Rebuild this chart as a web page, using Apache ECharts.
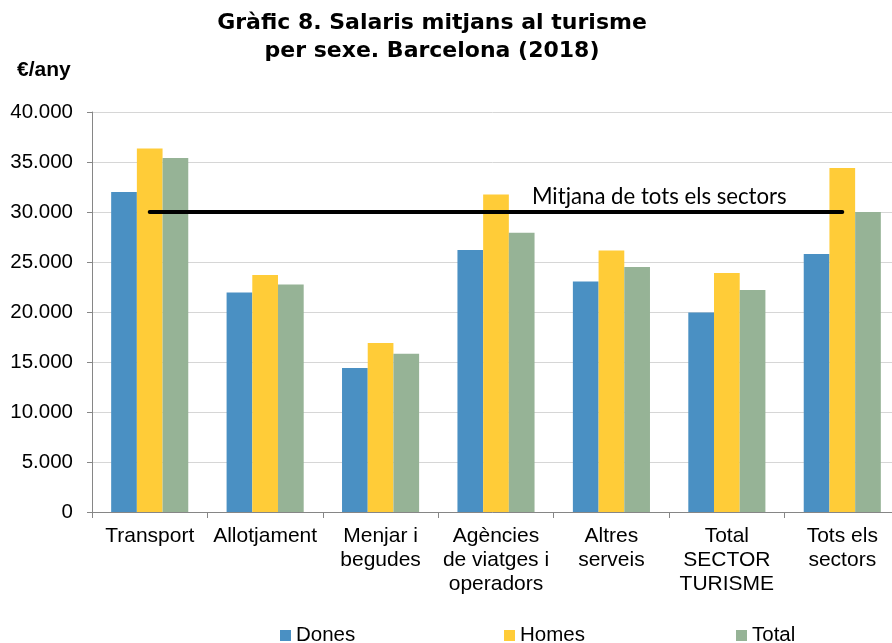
<!DOCTYPE html>
<html><head><meta charset="utf-8">
<script src="https://cdn.jsdelivr.net/npm/echarts@6/dist/echarts.min.js"></script>
<style>html,body{margin:0;padding:0;background:#fff}#c{width:892px;height:643px}</style>
</head><body><div id="c"></div>
<script>
const categories = ['Transport', 'Allotjament', 'Menjar i\nbegudes', 'Agències\nde viatges i\noperadors', 'Altres\nserveis', 'Total\nSECTOR\nTURISME', 'Tots els\nsectors'];
const dones = [32000, 21950, 14400, 26200, 23050, 19950, 25800];
const homes = [36350, 23700, 16900, 31750, 26150, 23900, 34400];
const total = [35400, 22750, 15830, 27930, 24500, 22200, 30000];
const mitjana = [30000, 30000, 30000, 30000, 30000, 30000, 30000];
const yTickLabels = ['0', '5.000', '10.000', '15.000', '20.000', '25.000', '30.000', '35.000', '40.000'];
const seriesNames = ['Dones', 'Homes', 'Total'];
const lineLabel = 'Mitjana de tots els sectors';

const colors = ['#4A90C3', '#FFCC38', '#96B396'];
const body = 'Liberation Sans, Arial, sans-serif';

const chart = echarts.init(document.getElementById('c'), null, {renderer: 'canvas'});
const legendLefts = [280, 504, 736];
const option = {
  animation: false,
  backgroundColor: '#fff',
  title: [{
    text: 'Gràfic 8. Salaris mitjans al turisme\nper sexe. Barcelona (2018)',
    left: 432, top: 9, padding: 0, textAlign: 'center',
    textStyle: {fontFamily: 'DejaVu Sans', fontWeight: 'bold', fontSize: 22, lineHeight: 28, color: '#000'}
  }, {
    text: '€/any', left: 17, top: 58, padding: 0,
    textStyle: {fontFamily: body, fontWeight: 'bold', fontSize: 21, lineHeight: 24, color: '#000'}
  }],
  legend: seriesNames.map((n, i) => ({
    data: [n], left: legendLefts[i], top: 625, padding: 0,
    icon: 'rect', itemWidth: 11, itemHeight: 11, itemGap: 5,
    textStyle: {fontFamily: body, fontSize: 20.5, color: '#000', lineHeight: 20}
  })),
  grid: {left: 92, top: 112, width: 808, height: 400, containLabel: false, outerBoundsMode: 'none'},
  xAxis: {
    type: 'category', data: categories,
    axisLine: {lineStyle: {color: '#868686', width: 1}},
    axisTick: {show: true, length: 6, lineStyle: {color: '#868686'}},
    axisLabel: {interval: 0, margin: 12, fontFamily: body, fontSize: 21, lineHeight: 24, color: '#000'}
  },
  yAxis: {
    type: 'value', min: 0, max: 40000, interval: 5000,
    axisLine: {show: true, lineStyle: {color: '#868686', width: 1}},
    axisTick: {show: true, length: 5, lineStyle: {color: '#868686'}},
    splitLine: {lineStyle: {color: '#d6d6d6', width: 1}},
    axisLabel: {margin: 19, fontFamily: body, fontSize: 20.5, color: '#000',
      formatter: v => yTickLabels[Math.round(v / 5000)]}
  },
  series: [
    {name: seriesNames[0], type: 'bar', data: dones, barWidth: 25.7, barGap: '0%', itemStyle: {color: colors[0]}},
    {name: seriesNames[1], type: 'bar', data: homes, barWidth: 25.7, barGap: '0%', itemStyle: {color: colors[1]}},
    {name: seriesNames[2], type: 'bar', data: total, barWidth: 25.7, barGap: '0%', itemStyle: {color: colors[2]}},
    {name: 'Mitjana', type: 'line', z: 5, silent: true,
      symbol: 'rect', symbolSize: 1, showSymbol: true,
      itemStyle: {color: '#000'},
      lineStyle: {color: '#000', width: 4, cap: 'round'},
      data: mitjana.map((v, i) => i === 4 ? {
        value: v,
        label: {show: true, formatter: lineLabel, position: [-79, -15], align: 'left', verticalAlign: 'middle',
          fontFamily: 'Lato', fontSize: 22.2, color: '#000'}
      } : v)
    }
  ]
};
chart.setOption(option);
</script>
</body></html>
